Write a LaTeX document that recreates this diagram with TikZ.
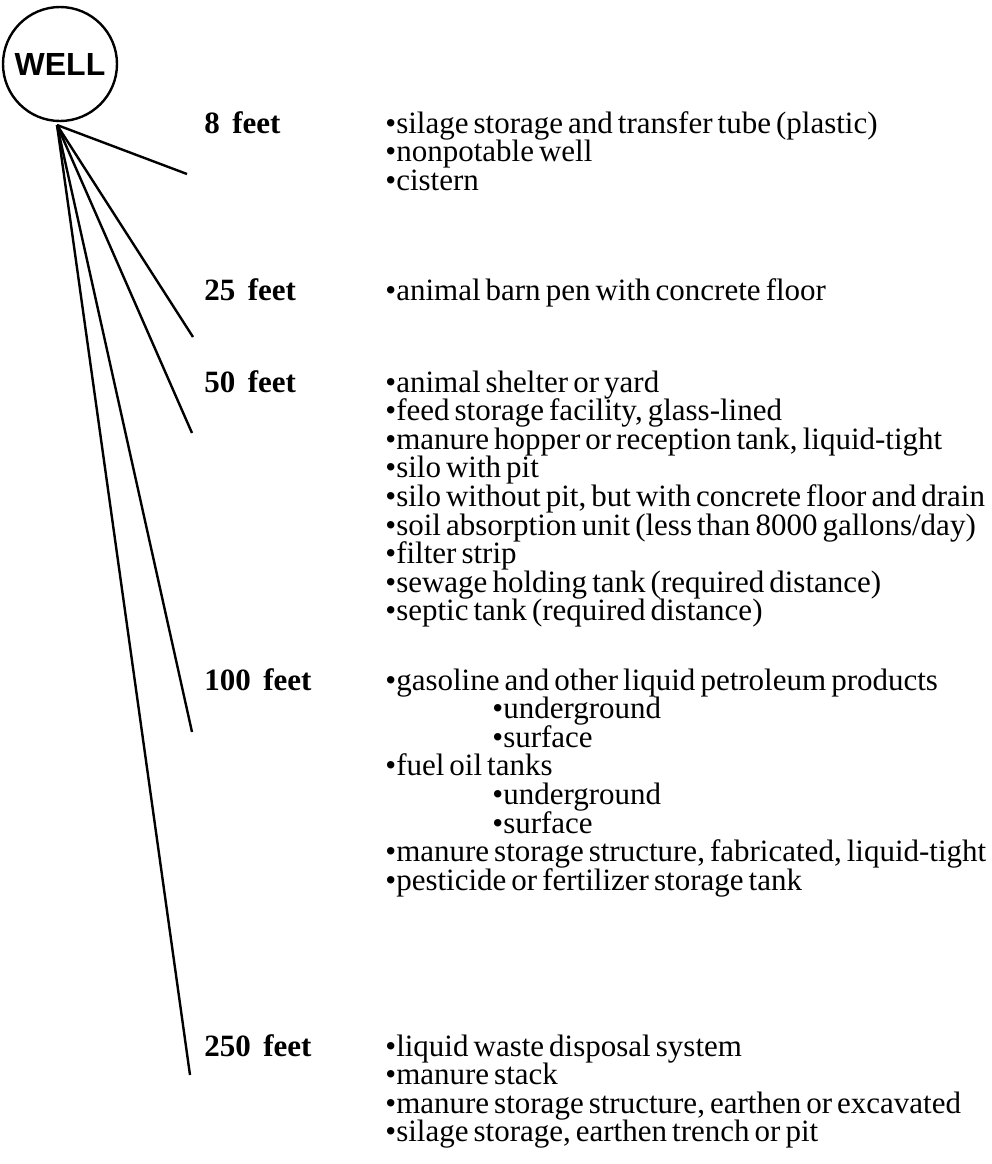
\documentclass[tikz,border=0pt]{standalone}
\usepackage{fontspec}
\setmainfont{Liberation Serif}[WordSpace=0.65]
\newfontfamily\wellfont{Liberation Sans}
\usetikzlibrary{positioning}
\tikzset{
	distlbl/.style={anchor=base west, inner sep=0pt, font=\fontsize{15.5pt}{17pt}\selectfont\bfseries},
	% base of a list node sits on its last line
	itemlist/.style={anchor=base west, inner sep=0pt, align=left, font=\fontsize{15.5pt}{14.3pt}\selectfont},
	spoke/.style={line width=1.2pt},
}
\newcommand{\subitm}{\hspace*{53.5pt}}

\begin{document}
\begin{tikzpicture}[x=0.5pt, y=-0.5pt]
	\useasboundingbox (0,0) rectangle (992,1164);
	% the well and the spokes out of it
	\node[circle, draw, line width=1.2pt, minimum size=57pt, inner sep=0pt,
		font=\fontsize{16pt}{16pt}\selectfont\wellfont\bfseries] (well) at (60,64) {WELL};
	\coordinate (hub) at (57,125);
	\coordinate (e8) at (187,174);
	\coordinate (e25) at (193,337);
	\coordinate (e50) at (192,433);
	\coordinate (e100) at (192,732);
	\coordinate (e250) at (190,1075);
	\foreach \e in {e8,e25,e50,e100,e250}
		\draw[spoke] (hub) -- (\e);
	% distances
	\node[distlbl] (d8) at (204,133) {8\hspace{0.4em}feet};
	\node[distlbl] (d25) at (204,300) {25\hspace{0.4em}feet};
	\node[distlbl] (d50) at (204,392) {50\hspace{0.4em}feet};
	\node[distlbl] (d100) at (204,690) {100\hspace{0.4em}feet};
	\node[distlbl] (d250) at (204,1056) {250\hspace{0.4em}feet};
	% what has to stay that far away
	\node[itemlist] (i8) at (385,190.2) {•silage storage and transfer tube (plastic)\\ •nonpotable well\\ •cistern};
	\node[itemlist] (i25) at (385,300) {•animal barn pen with concrete floor};
	\node[itemlist] (i50) at (385,620.8) {•animal shelter or yard\\ •feed storage facility, glass-lined\\
		•manure hopper or reception tank, liquid-tight\\ •silo with pit\\
		•silo without pit, but with concrete floor and drain\\
		•soil absorption unit (less than 8000 gallons/day)\\ •filter strip\\
		•sewage holding tank (required distance)\\ •septic tank (required distance)};
	\node[itemlist] (i100) at (385,890.2) {•gasoline and other liquid petroleum products\\
		\subitm•underground\\ \subitm•surface\\ •fuel oil tanks\\
		\subitm•underground\\ \subitm•surface\\
		•manure storage structure, fabricated, liquid-tight\\ •pesticide or fertilizer storage tank};
	\node[itemlist] (i250) at (385,1141.8) {•liquid waste disposal system\\ •manure stack\\
		•manure storage structure, earthen or excavated\\ •silage storage, earthen trench or pit};
\end{tikzpicture}
\end{document}
